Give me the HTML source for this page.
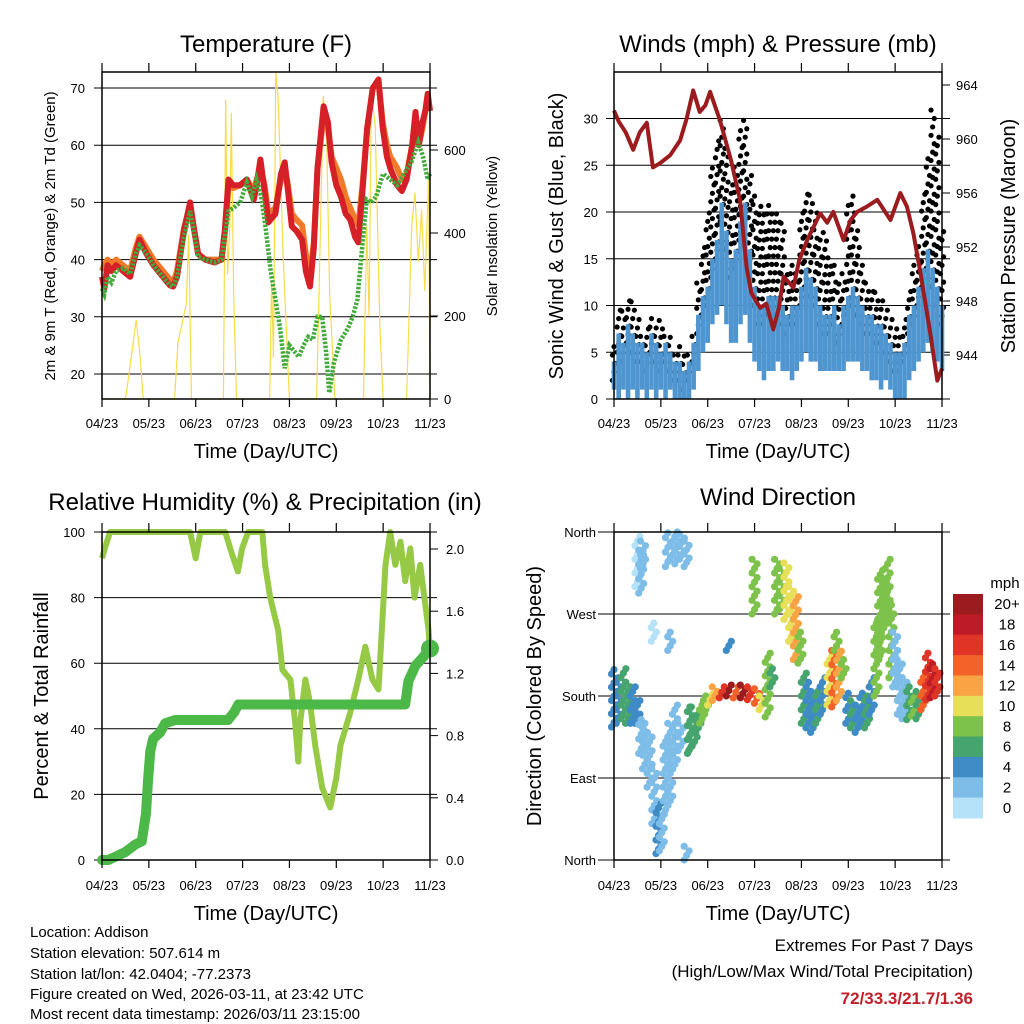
<!DOCTYPE html>
<html><head><meta charset="utf-8"><style>
html,body{margin:0;padding:0;background:#fff;}
svg{display:block;font-family:"Liberation Sans",sans-serif;}
</style></head><body>
<svg id="root" width="1024" height="1024" viewBox="0 0 1024 1024" xmlns="http://www.w3.org/2000/svg">
<g id="g1"></g>
<g id="g2"></g>
<g id="g3"></g>
<g id="g4"></g>
<g font-size="15" fill="#000">
<text x="30" y="937">Location: Addison</text>
<text x="30" y="958">Station elevation: 507.614 m</text>
<text x="30" y="979">Station lat/lon: 42.0404; -77.2373</text>
<text x="30" y="999">Figure created on Wed, 2026-03-11, at 23:42 UTC</text>
<text x="30" y="1019">Most recent data timestamp: 2026/03/11 23:15:00</text>
</g>
<g font-size="17" text-anchor="end">
<text x="973" y="951">Extremes For Past 7 Days</text>
<text x="973" y="977">(High/Low/Max Wind/Total Precipitation)</text>
<text x="973" y="1004" fill="#c0202a" font-weight="bold">72/33.3/21.7/1.36</text>
</g>
</svg>
<script>
// ---------- data ----------
const monthLabels = ["04/23","05/23","06/23","07/23","08/23","09/23","10/23","11/23"];
// Temperature (months since 04/23)
const tempT = [0,0.05,0.12,0.2,0.3,0.45,0.6,0.72,0.8,0.95,1.1,1.3,1.45,1.52,1.6,1.75,1.88,1.95,2.05,2.2,2.4,2.55,2.62,2.7,2.8,2.95,3.09,3.24,3.3,3.38,3.47,3.55,3.7,3.82,3.9,3.97,4.05,4.15,4.27,4.35,4.44,4.52,4.6,4.73,4.82,4.9,5.0,5.1,5.2,5.3,5.4,5.47,5.56,5.66,5.78,5.9,5.99,6.08,6.15,6.3,6.4,6.5,6.62,6.69,6.76,6.84,6.9,6.95,7.0];
const temp2m = [37,35,39,38,39,38,37,41,43.5,41,39,37,35.5,35.3,37,45,50,46,41,40,39.5,40,45,54,53,53,54,50.5,53,57.5,52,46.5,48,55,57,52,45.8,45,43.5,38,35.3,42,56,66.8,64,57,53,51,48,47,44,43,52,63,70,71.5,63,58,56,53,52,54,60,65.8,60,64,66,69,66];
const temp9m = [38,39,40,39,40,39,38,42,44,42,40,38,36.5,36,38,45.5,49.5,46,41,40,40,40,45,53,52.5,53,54,52,54,56,53,48,49,54,56,53,48,47,46,41,37,43,56,65,63,58,56,54,51,49,47,46,53,63,70,71,64,60,58,56,54,55,60,65,60,63,66,68,66];
const dewT = [0,0.05,0.12,0.2,0.3,0.45,0.6,0.72,0.8,0.95,1.1,1.3,1.45,1.52,1.6,1.75,1.88,1.95,2.05,2.2,2.4,2.55,2.62,2.7,2.8,2.95,3.09,3.2,3.3,3.4,3.5,3.6,3.7,3.8,3.9,4.0,4.1,4.2,4.3,4.4,4.5,4.6,4.7,4.78,4.85,4.95,5.1,5.25,5.35,5.45,5.55,5.65,5.75,5.85,6.0,6.15,6.3,6.45,6.6,6.75,6.85,6.95,7.0];
const dewV = [35,34,37,36,38,38.5,37.5,41,42.5,41,39,37,35.5,35.3,37,44,48.5,45.5,40.5,40,39.5,40,44,48.5,49,50,53.5,51,54,51,45,38,33,28,21,25,24,23,25,26.5,26,30,30,24,16.7,22,26,28,30,33,42,50.5,50,51,55,54,53,55,57,60.5,58,54,55];
const solarT = [0,0.5,0.56,0.73,0.8,0.88,1.55,1.62,1.8,1.85,1.91,2.59,2.64,2.68,2.73,2.76,2.81,2.87,3.58,3.62,3.66,3.71,3.76,3.87,4.0,4.58,4.68,4.72,4.79,4.86,4.97,5.58,5.65,5.7,5.75,5.83,5.93,6.0,6.5,6.61,6.68,6.75,6.82,6.89,6.97,7.0];
const solarV = [0,0,46,190,120,0,0,135,230,396,0,0,722,300,420,690,250,0,0,280,100,788,722,335,0,0,500,730,658,250,0,0,416,200,738,658,175,0,0,416,497,330,456,260,540,0];
// Winds (bins every 0.1 month)
const windBlueLo = [1,0,1,0,1,0,1,0,1,0,1,0,1,0,0,0,0,1,3,5,6,8,9,10,8,6,6,8,9,6,4,3,2,3,3,4,3,3,2,3,4,5,4,4,3,3,3,3,3,3,4,4,4,3,3,2,2,1,2,1,0,0,0,2,3,4,5,6,5,4,3];
const windBlueHi = [4,7,6,8,7,6,6,5,7,6,5,6,5,4,4,3,4,6,9,11,12,15,17,21,18,15,16,19,21,16,12,10,10,11,11,11,10,9,10,10,12,14,13,12,10,9,9,10,8,10,11,12,11,10,9,9,8,8,7,6,5,5,6,9,10,12,14,16,14,12,10];
const gustHi = [6,10,10,11,11,9,7,8,9,8,9,7,7,5,6,5,5,7,13,17,20,25,28,30,27,23,25,29,30,24,22,21,20,21,20,20,19,14,15,14,20,22,22,20,17,18,16,15,13,14,21,22,18,15,13,12,12,11,10,9,8,7,9,12,15,17,22,26,31,28,18];
const presT = [0,0.1,0.25,0.41,0.55,0.7,0.83,0.98,1.2,1.41,1.55,1.69,1.83,1.95,2.05,2.26,2.5,2.69,2.83,2.93,3.12,3.25,3.4,3.52,3.62,3.83,3.95,4.12,4.4,4.55,4.68,4.9,5.05,5.19,5.4,5.62,5.9,6.11,6.25,6.39,6.54,6.75,6.9,7.0];
const presV = [962.1,961.3,960.5,959.2,960.5,961.2,957.9,958.2,958.8,959.9,961.5,963.6,962,962.5,963.5,961.4,958.4,955.5,950.5,948.6,947.5,947.8,945.9,947.5,949.8,949,951,952.5,954.5,953.8,954.6,952.5,954,954.6,955,955.5,954,956,955,953,950.1,945.6,942.1,943];
// RH and precip
const rhT = [0,0.06,0.17,1.88,2.0,2.1,2.63,2.78,2.9,2.99,3.12,3.42,3.48,3.59,3.76,3.85,4.02,4.12,4.19,4.23,4.34,4.44,4.55,4.7,4.87,5.0,5.09,5.3,5.47,5.62,5.77,5.9,6.05,6.15,6.26,6.37,6.47,6.58,6.67,6.79,6.97,7.0];
const rhV = [92,95,100,100,92,100,100,93,88,95,100,100,90,80,70,58,55,42,30,42,55,48,35,22,16,25,35,45,55,65,55,52,90,100,90,97,85,95,80,90,70,63];
const precipT = [0,0.13,0.28,0.49,0.71,0.85,0.94,0.98,1.03,1.09,1.24,1.35,1.56,2.69,2.82,2.91,6.47,6.54,6.69,6.84,7.0];
const precipV = [0,0,0.02,0.05,0.1,0.12,0.3,0.5,0.7,0.78,0.82,0.88,0.9,0.9,0.95,1.0,1.0,1.15,1.25,1.3,1.36];
// Wind direction: time, direction range (deg, 0=N bottom), speed (mph)
const dirT  = [0,0.1,0.2,0.3,0.4,0.5,0.58,0.66,0.76,0.86,0.95,1.02,1.1,1.2,1.3,1.42,1.55,1.62,0.5,0.58,0.62,1.15,1.25,1.35,1.45,1.55,0.85,1.2,1.65,1.72,1.8,1.88,1.96,2.05,2.15,2.3,2.45,2.6,2.75,2.9,3.05,3.15,2.45,3.0,3.28,3.38,3.48,3.58,3.68,3.78,3.88,3.98,4.05,4.15,4.25,4.35,4.45,4.6,4.7,4.8,4.9,4.75,5.0,5.1,5.2,5.3,5.4,5.5,5.6,5.68,5.76,5.84,5.92,6.0,6.1,6.2,6.3,6.4,6.5,6.6,6.7,6.8,6.9];
const dirLo = [146,150,155,150,150,150,117,100,80,40,7,10,50,60,100,120,0,117,300,293,320,322,330,325,330,322,240,230,120,125,140,150,160,170,175,178,180,178,178,176,172,165,230,270,157,190,270,275,264,240,220,216,150,145,140,150,160,170,168,175,200,230,150,145,140,150,145,160,180,220,250,260,200,190,160,155,154,158,155,165,176,178,180];
const dirHi = [209,200,210,195,190,175,154,150,135,100,62,50,130,150,170,150,15,168,355,340,350,359,355,360,358,350,260,250,168,150,165,170,180,182,190,190,192,190,192,190,188,180,240,330,227,210,330,320,326,300,289,250,205,195,185,190,200,225,230,234,220,250,183,175,170,183,180,200,260,318,310,330,280,250,220,200,190,183,185,205,227,215,210];
const dirSpd = [4,4,6,6,4,4,2,3,3,3,4,2,3,3,2,2,2,6,0,2,2,2,2,2,2,2,0,2,6,6,6,8,8,10,12,16,20,14,20,16,14,10,4,8,8,6,8,8,10,10,12,8,6,4,4,6,4,10,14,12,8,8,4,6,4,4,6,4,8,8,8,8,8,2,2,2,6,8,6,14,16,18,16];
const cbLabels = ["0","2","4","6","8","10","12","14","16","18","20+"];
const cbColors = ["#b5e2f8","#7dbde8","#3f8bc6","#46a56f","#7dc24b","#e8df58","#f9a444","#f26229","#e03526","#bd1c26","#9b1b1e"];

// ---------- helpers ----------
const NS = "http://www.w3.org/2000/svg";
function el(tag, attrs, parent){
  const e = document.createElementNS(NS, tag);
  for (const k in attrs) e.setAttribute(k, attrs[k]);
  parent.appendChild(e);
  return e;
}
function txt(parent, x, y, s, size, anchor, rot){
  const t = el("text", {x:x, y:y, "font-size":size, "text-anchor":anchor||"middle"}, parent);
  if (rot) t.setAttribute("transform", "rotate(-90 "+x+" "+y+")");
  t.textContent = s;
  return t;
}
function xAxis(x0, x1){ return t => x0 + (x1 - x0) * t / 7; }
function poly(pts){ return pts.map(p => p[0].toFixed(1)+","+p[1].toFixed(1)).join(" "); }

function frame(g, L, R, T, B, labelY){
  const fx = xAxis(L, R);
  for (let i = 0; i < 8; i++){
    const tk = el("line", {x1:fx(i), x2:fx(i), y1:T-9, y2:T, stroke:"#000", "stroke-width":1.2}, g);
    
    
    const tb = el("line", {x1:fx(i), x2:fx(i), y1:B, y2:B+8, stroke:"#000", "stroke-width":1.2}, g);
    
    
    const lb = txt(g, fx(i), labelY, monthLabels[i], 13);
    
    
  }
  const box = el("rect", {x:L, y:T, width:R-L, height:B-T, fill:"none", stroke:"#000", "stroke-width":1.5}, g);
  
  
  const xt = txt(g, (L+R)/2, labelY+30, "Time (Day/UTC)", 20);
  
  
}
function grid(g, x1, x2, y){
  const l = el("line", {x1:x1, x2:x2, y1:y, y2:y, stroke:"#000", "stroke-width":1}, g);
  
  
}

// ---------- Panel 1: temperature ----------
(function(){
  const g = document.getElementById("g1");
  const L=102,R=430,T=72,B=399;
  const fx = xAxis(L,R);
  const fy = v => 374 - (v-20)*5.72;
  const fs = v => 399 - v*(249/600);
  const ttl = txt(g, 266, 52, "Temperature (F)", 24);
  
  
  [20,30,40,50,60,70].forEach(v => {
    grid(g, 94, 437, fy(v));
    const lb = txt(g, 85, fy(v)+5, String(v), 13, "end");
    
    
  });
  [0,200,400,600].forEach(v => {
    const tk = el("line", {x1:R, x2:R+8, y1:fs(v), y2:fs(v), stroke:"#000"}, g);
    
    
    const lb = txt(g, 444, fs(v)+5, String(v), 13, "start");
    
    
  });
  const sol = el("polyline", {points:poly(solarT.map((t,i)=>[fx(t), fs(solarV[i])])), fill:"none", stroke:"#f7dc4a", "stroke-width":1.2}, g);
  
  
  const o = el("polyline", {points:poly(tempT.map((t,i)=>[fx(t), fy(temp9m[i])])), fill:"none", stroke:"#f07a2a", "stroke-width":6, "stroke-linejoin":"round"}, g);
  
  
  const r = el("polyline", {points:poly(tempT.map((t,i)=>[fx(t), fy(temp2m[i])])), fill:"none", stroke:"#d42026", "stroke-width":6, "stroke-linejoin":"round"}, g);
  
  
  const d = el("polyline", {points:poly(dewT.map((t,i)=>[fx(t), fy(dewV[i])])), fill:"none", stroke:"#44aa3c", "stroke-width":4.5, "stroke-dasharray":"2.5 1.5"}, g);
  
  
  frame(g, L, R, T, B, 428);
  const yl = txt(g, 55, 236, "2m & 9m T (Red, Orange) & 2m Td (Green)", 15, "middle", true);
  
  
  const yr = txt(g, 497, 236, "Solar Insolation (Yellow)", 15, "middle", true);
  
  
})();

// ---------- Panel 2: winds & pressure ----------
(function(){
  const g = document.getElementById("g2");
  const L=614,R=942,T=72,B=399;
  const fx = xAxis(L,R);
  const fy = v => 399 - v*9.35;
  const fp = v => 85 + (964 - v)*13.5;
  const ttl = txt(g, 778, 52, "Winds (mph) & Pressure (mb)", 24);
  
  
  [0,5,10,15,20,25,30].forEach(v => {
    grid(g, 606, 950, fy(v));
    const lb = txt(g, 598, fy(v)+5, String(v), 13, "end");
    
    
  });
  [944,948,952,956,960,964].forEach(v => {
    const tk = el("line", {x1:R, x2:R+8, y1:fp(v), y2:fp(v), stroke:"#000"}, g);
    
    
    const lb = txt(g, 956, fp(v)+5, String(v), 13, "start");
    
    
  });
  gustHi.forEach((v,i) => {
    const x = fx(i/10);
    const lo = Math.max(windBlueHi[i]-2, 0);
    let k = 0;
    for (let s = lo; s <= v; s += 0.9, k++){
      const c = el("circle", {cx:x + ((k%3)-1)*1.6, cy:fy(s), r:2.6, fill:"#000"}, g);
      
      
    }
  });
  windBlueHi.forEach((v,i) => {
    const x = fx(i/10);
    const b = el("line", {x1:x, x2:x, y1:fy(windBlueLo[i]), y2:fy(v), stroke:"#4f96d0", "stroke-width":4.6}, g);
    
    
  });
  const p = el("polyline", {points:poly(presT.map((t,i)=>[fx(t), fp(presV[i])])), fill:"none", stroke:"#9b1b1e", "stroke-width":4, "stroke-linejoin":"round"}, g);
  
  
  frame(g, L, R, T, B, 428);
  const yl = txt(g, 563, 236, "Sonic Wind & Gust (Blue, Black)", 20, "middle", true);
  
  
  const yr = txt(g, 1015, 236, "Station Pressure (Maroon)", 20, "middle", true);
  
  
})();

// ---------- Panel 3: RH & precip ----------
(function(){
  const g = document.getElementById("g3");
  const L=102,R=430,T=532,B=860;
  const fx = xAxis(L,R);
  const fy = v => 860 - v*3.28;
  const fr = v => 860 - v*155.5;
  const ttl = txt(g, 265, 510, "Relative Humidity (%) & Precipitation (in)", 24);
  
  
  [0,20,40,60,80,100].forEach(v => {
    grid(g, 94, 437, fy(v));
    const lb = txt(g, 85, fy(v)+5, String(v), 13, "end");
    
    
  });
  [0,0.4,0.8,1.2,1.6,2.0].forEach(v => {
    const tk = el("line", {x1:R, x2:R+8, y1:fr(v), y2:fr(v), stroke:"#000"}, g);
    
    
    const lb = txt(g, 446, fr(v)+5, v.toFixed(1), 13, "start");
    
    
  });
  const rh = el("polyline", {points:poly(rhT.map((t,i)=>[fx(t), fy(rhV[i])])), fill:"none", stroke:"#96c945", "stroke-width":6, "stroke-linejoin":"round"}, g);
  
  
  const pr = el("polyline", {points:poly(precipT.map((t,i)=>[fx(t), fr(precipV[i])])), fill:"none", stroke:"#4cb848", "stroke-width":10, "stroke-linejoin":"round", "stroke-linecap":"round"}, g);
  
  
  const n = precipT.length-1;
  const endDot = el("circle", {cx:fx(precipT[n]), cy:fr(precipV[n]), r:9, fill:"#4cb848"}, g);
  
  
  frame(g, L, R, T, B, 890);
  const yl = txt(g, 48, 696, "Percent & Total Rainfall", 20, "middle", true);
  
  
})();

// ---------- Panel 4: wind direction ----------
(function(){
  const g = document.getElementById("g4");
  const L=614,R=942,T=532,B=860;
  const fx = xAxis(L,R);
  const fy = v => 860 - v*(328/360);
  const ttl = txt(g, 778, 505, "Wind Direction", 24);
  
  
  const dirNames = ["North","East","South","West","North"];
  dirNames.forEach((s,i) => {
    grid(g, 598, 950, fy(i*90));
    const lb = txt(g, 596, fy(i*90)+5, s, 13, "end");
    
    
  });
  dirT.forEach((t,i) => {
    const col = cbColors[Math.min(10, Math.floor(dirSpd[i]/2))];
    const n = Math.max(1, Math.round((dirHi[i]-dirLo[i])/5));
    for (let k = 0; k <= n; k++){
      const v = dirLo[i] + (dirHi[i]-dirLo[i])*k/n;
      const c = el("circle", {cx:fx(t) + ((k%3)-1)*2.5, cy:fy(v), r:3.6, fill:col}, g);
      
      
    }
  });
  frame(g, L, R, T, B, 890);
  const yl = txt(g, 541, 696, "Direction (Colored By Speed)", 20, "middle", true);
  
  
  // colorbar
  const cb = el("g", {}, g);
  
  
  const unit = txt(cb, 1005, 588, "mph", 15);
  
  
  const h = (818-594)/cbColors.length;
  for (let i = 0; i < cbColors.length; i++){
    const j = cbColors.length-1-i;
    const r = el("rect", {x:953, y:594+i*h, width:30, height:h+0.5, fill:cbColors[j]}, cb);
    
    
    const lb = txt(cb, 1007, 594+i*h+h/2+5, cbLabels[j], 15);
    
    
  }
})();
</script>
</body></html>
